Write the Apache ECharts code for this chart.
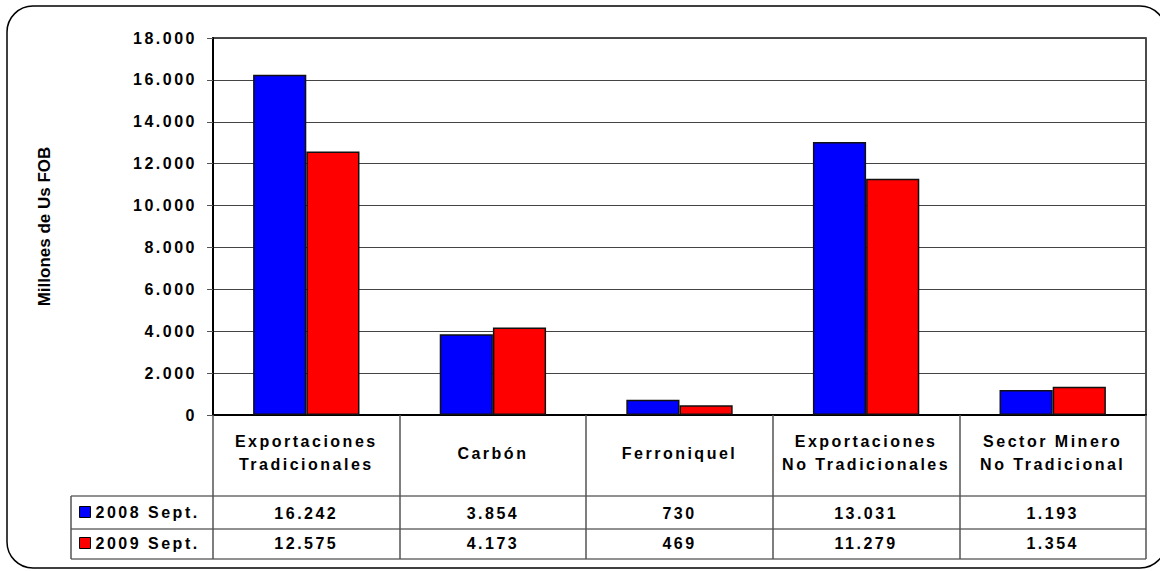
<!DOCTYPE html>
<html>
<head>
<meta charset="utf-8">
<script src="https://cdn.jsdelivr.net/npm/echarts@6/dist/echarts.min.js"></script>
<style>
  html, body { margin: 0; padding: 0; background: #fff; }
  #main { width: 1160px; height: 571px; }
  /* the source chart has wide tracking on every label except the axis title */
  #main text { letter-spacing: 2.5px; }
  #main text[style*="17px"] { letter-spacing: 0; }
</style>
</head>
<body>
<div id="main"></div>
<script>
const categories = [
  "Exportaciones\nTradicionales",
  "Carbón",
  "Ferroniquel",
  "Exportaciones\nNo Tradicionales",
  "Sector Minero\nNo Tradicional"
];
const seriesNames = ["2008 Sept.", "2009 Sept."];
const values2008 = [16242, 3854, 730, 13031, 1193];
const values2009 = [12575, 4173, 469, 11279, 1354];
const yTicks = { min: 0, max: 18000, interval: 2000 };

const FONT = '"Liberation Sans", Arial, sans-serif';
const fmt = v => String(v).replace(/\B(?=(\d{3})+(?!\d))/g, ".");

// table rows are extra category axes sharing the grid, one per series
const valueRowAxis = (vals, margin) => ({
  type: "category",
  data: categories,
  position: "bottom",
  axisLine: { show: false },
  axisTick: { show: false },
  axisLabel: {
    margin: margin,
    verticalAlign: "middle",
    formatter: (v, i) => fmt(vals[i]),
    color: "#000",
    fontWeight: "bold",
    fontSize: 16,
    fontFamily: FONT
  }
});

const chart = echarts.init(document.getElementById("main"), null, { renderer: "svg" });
chart.setOption({
  animation: false,
  grid: {
    left: 213, top: 38, right: 14, bottom: 156,
    show: true, borderColor: "#111", borderWidth: 1.5, backgroundColor: "transparent"
  },
  legend: {
    orient: "vertical",
    left: 79, top: 504, padding: 0,
    itemWidth: 11, itemHeight: 11, itemGap: 15,
    icon: "rect",
    itemStyle: { borderColor: "#000", borderWidth: 1 },
    data: seriesNames,
    textStyle: { color: "#000", fontWeight: "bold", fontSize: 16, fontFamily: FONT }
  },
  xAxis: [
    {
      type: "category",
      data: categories,
      position: "bottom",
      axisLine: { lineStyle: { color: "#000", width: 2 } },
      axisTick: { show: true, length: 144, lineStyle: { color: "#555", width: 1.5 } },
      axisLabel: {
        margin: 38,
        verticalAlign: "middle",
        lineHeight: 23,
        color: "#000",
        fontWeight: "bold",
        fontSize: 16,
        fontFamily: FONT
      }
    },
    valueRowAxis(values2008, 98),
    valueRowAxis(values2009, 128)
  ],
  yAxis: {
    type: "value",
    min: yTicks.min, max: yTicks.max, interval: yTicks.interval,
    name: "Millones de Us FOB",
    nameLocation: "middle",
    nameRotate: 90,
    nameGap: 160,
    nameTextStyle: { color: "#000", fontWeight: "bold", fontSize: 17, fontFamily: FONT },
    axisLine: { show: true, lineStyle: { color: "#000", width: 2 } },
    axisTick: { show: true, length: 6, lineStyle: { color: "#555" } },
    axisLabel: {
      margin: 16,
      formatter: fmt,
      color: "#000",
      fontWeight: "bold",
      fontSize: 16,
      fontFamily: FONT
    },
    splitLine: { lineStyle: { color: "#444", width: 1 } }
  },
  series: [
    {
      name: seriesNames[0], type: "bar", data: values2008,
      barGap: "0%", barCategoryGap: "43%",
      itemStyle: { color: "#0000ff", borderColor: "#111", borderWidth: 1.5 }
    },
    {
      name: seriesNames[1], type: "bar", data: values2009,
      barGap: "0%", barCategoryGap: "43%",
      itemStyle: { color: "#ff0000", borderColor: "#111", borderWidth: 1.5 }
    }
  ],
  graphic: [
    { type: "rect", z: -1, shape: { x: 7, y: 6, width: 1159, height: 562, r: 26 },
      style: { fill: "none", stroke: "#000", lineWidth: 1.5 } },
    { type: "line", shape: { x1: 71, y1: 496, x2: 1146, y2: 496 }, style: { stroke: "#222", lineWidth: 1 } },
    { type: "line", shape: { x1: 71, y1: 529, x2: 1146, y2: 529 }, style: { stroke: "#222", lineWidth: 1 } },
    { type: "line", shape: { x1: 71, y1: 559, x2: 1146, y2: 559 }, style: { stroke: "#222", lineWidth: 1 } },
    { type: "line", shape: { x1: 71, y1: 496, x2: 71, y2: 559 }, style: { stroke: "#555", lineWidth: 1.5 } }
  ]
});
</script>
</body>
</html>
